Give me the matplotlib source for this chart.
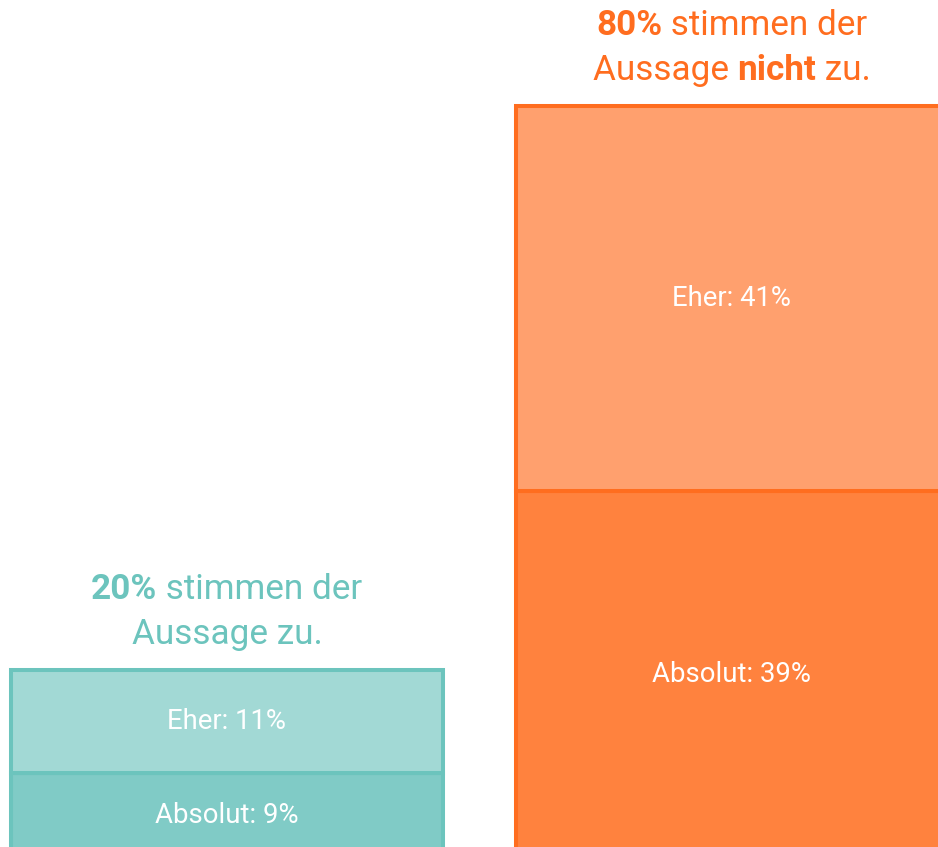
import matplotlib
matplotlib.use("Agg")
from matplotlib import pyplot as plt
import matplotlib.transforms as mtransforms

plt.rcParams['font.family'] = ['Roboto', 'DejaVu Sans']

# Zustimmung / Ablehnung, jeweils "Absolut" (unten) und "Eher" (oben)
groups = ["zu", "nicht zu"]
absolut_values = [9, 39]
eher_values = [11, 41]
totals = [a + e for a, e in zip(absolut_values, eher_values)]

edge_colors = ["#6cc4bd", "#ff6d1f"]
absolut_colors = ["#80cbc6", "#ff823e"]
eher_colors = ["#a2d9d5", "#ffa06e"]

# Überschriften: Liste von Zeilen, jede Zeile aus (Text, fett?)
titles = [
    [[(f"{totals[0]}%", True), (" stimmen der", False)],
     [("Aussage zu.", False)]],
    [[(f"{totals[1]}%", True), (" stimmen der", False)],
     [("Aussage ", False), ("nicht", True), (" zu.", False)]],
]

fig = plt.figure(figsize=(9.38, 8.47), dpi=100)
ax = fig.add_axes([0, 0, 1, 1])
ax.axis("off")

x = [0, 1]
width = 0.855
ax.bar(x, absolut_values, width=width, color=absolut_colors,
       edgecolor=edge_colors, linewidth=2.9)
ax.bar(x, eher_values, bottom=absolut_values, width=width, color=eher_colors,
       edgecolor=edge_colors, linewidth=2.9)

# Balken laufen unten aus dem Bild heraus
ax.set_xlim(-0.4495, 1.408)
ax.set_ylim(1.17, 91.28)

for i in range(2):
    ax.text(x[i], absolut_values[i] / 2, f"Absolut: {absolut_values[i]}%",
            ha="center", va="center", color="white", fontsize=19.8)
    ax.text(x[i], absolut_values[i] + eher_values[i] / 2, f"Eher: {eher_values[i]}%",
            ha="center", va="center", color="white", fontsize=19.8)

# Überschriften aus Teilstücken zusammensetzen und zentrieren
fig.canvas.draw()
renderer = fig.canvas.get_renderer()
for i, lines in enumerate(titles):
    top_px = ax.transData.transform((x[i], totals[i]))
    for j, line in enumerate(lines):
        y_off = 36 + 45 * (len(lines) - 1 - j)
        pieces = []
        for s, bold in line:
            t = ax.text(0, 0, s, color=edge_colors[i], fontsize=25.3,
                        fontweight="bold" if bold else "normal",
                        ha="left", va="center")
            pieces.append(t)
        widths = [p.get_window_extent(renderer).width for p in pieces]
        total_w = sum(widths)
        cur = top_px[0] - total_w / 2
        for p, w in zip(pieces, widths):
            p.set_transform(mtransforms.IdentityTransform())
            p.set_position((cur, top_px[1] + y_off))
            cur += w

fig.savefig("out.png", dpi=100)
